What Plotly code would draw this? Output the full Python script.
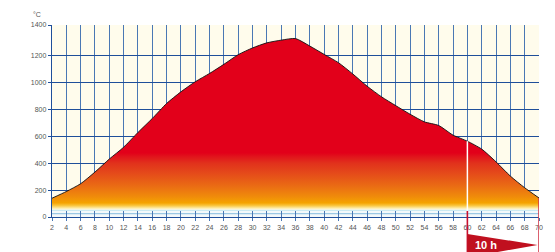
import plotly.graph_objects as go

# ---- data ----
hours = [2, 4, 6, 8, 10, 12, 14, 16, 18, 20, 22, 24, 26, 28, 30, 32, 34, 36,
         38, 40, 42, 44, 46, 48, 50, 52, 54, 56, 58, 60, 62, 64, 66, 68, 70]
temps = [140, 190, 248, 335, 432, 520, 630, 734, 846, 933, 1008, 1070, 1138,
         1210, 1260, 1298, 1318, 1330, 1274, 1212, 1150, 1066, 975, 896, 830,
         766, 709, 682, 610, 565, 506, 411, 305, 218, 142]
x_ticks = list(range(2, 71, 2))
y_tickvals = [0, 200, 400, 600, 800, 1000, 1200, 1431]
y_ticktext = ["0", "200", "400", "600", "800", "1000", "1200", "1400"]
unit_label = "°C"
hold_start, hold_end = 60, 70
hold_label = "10 h"
fill_floor = 45
y_top = 1431

DARK = "#1f4f9a"
GRID = "#4a78b4"
TXT = "#555555"

def n(v):
    return (v - fill_floor) / (500 - fill_floor)

colorscale = [
    [0.0, "#b9e1f2"],
    [n(52), "#dcf0f0"],
    [n(58), "#fff7d6"],
    [n(68), "#fde79a"],
    [n(85), "#f9c640"],
    [n(105), "#f5a300"],
    [n(150), "#f08c0a"],
    [n(230), "#ea6c14"],
    [n(320), "#e54c1a"],
    [n(400), "#e1321c"],
    [n(450), "#e1141c"],
    [n(478), "#e2001a"],
    [1.0, "#e2001a"],
]

fig = go.Figure()
fig.add_trace(go.Scatter(x=hours, y=[fill_floor] * len(hours), mode="lines",
                         line=dict(width=0), hoverinfo="skip", showlegend=False))
fig.add_trace(go.Scatter(
    x=hours, y=temps, mode="lines", fill="tonexty",
    line=dict(color="#111111", width=0.9, shape="spline", smoothing=0.6),
    fillgradient=dict(type="vertical", start=fill_floor, stop=500,
                      colorscale=colorscale),
    showlegend=False))

hold_idx = hours.index(hold_start)
end_idx = hours.index(hold_end)
shapes = [
    # bottom strip
    dict(type="rect", xref="x", yref="y", x0=2, x1=70, y0=0, y1=fill_floor,
         fillcolor="#f3f9fb", line=dict(width=0), layer="below"),
    dict(type="line", xref="x", yref="y", x0=2, x1=70, y0=25, y1=25,
         line=dict(color="#9cc8e4", width=1.2), layer="below"),
    # white marker inside the fill
    dict(type="line", xref="x", yref="y", x0=hold_start, x1=hold_start,
         y0=fill_floor, y1=temps[hold_idx], line=dict(color="white", width=1.5)),
    # red lines below the axis
    dict(type="line", xref="x", yref="paper", x0=hold_start, x1=hold_start,
         y0=-0.25, y1=fill_floor / y_top, line=dict(color="#c8102e", width=1.6)),
    dict(type="line", xref="x", yref="paper", x0=hold_end, x1=hold_end,
         y0=-0.25, y1=temps[end_idx] / y_top, line=dict(color="#d23a4c", width=1.6)),
    # arrow flag
    dict(type="path", xref="x", yref="paper",
         path=f"M {hold_start},-0.088 L {hold_end - 0.2},-0.146 L {hold_start},-0.21 Z",
         fillcolor="#c0101f", line=dict(width=0)),
]

# page has an 8px body margin -> figure is 547x244 placed at (8, 8)
fig.update_layout(
    width=547, height=244,
    margin=dict(l=44, r=16, t=17, b=35),
    paper_bgcolor="white", plot_bgcolor="#fffcec",
    shapes=shapes,
    font=dict(family="Liberation Sans, Arial", size=7, color=TXT),
    annotations=[
        dict(text=unit_label, xref="paper", yref="paper", x=-0.03, y=1.055,
             showarrow=False, xanchor="center", yanchor="middle",
             font=dict(size=7, color=TXT)),
        dict(text=f"<b>{hold_label}</b>", xref="x", yref="paper", x=62.6, y=-0.146,
             showarrow=False, xanchor="center", yanchor="middle",
             font=dict(size=11, color="white", family="Liberation Sans, Arial")),
    ],
)
fig.update_xaxes(range=[2, 70], tickvals=x_ticks, ticks="outside", ticklen=3,
                 tickcolor=GRID, tickwidth=1.2, showgrid=True, gridcolor=GRID,
                 gridwidth=1.2, showline=True, linecolor=DARK, linewidth=1.4,
                 zeroline=False, tickfont=dict(size=7, color=TXT))
fig.update_yaxes(range=[0, y_top], tickvals=y_tickvals, ticktext=y_ticktext,
                 ticks="outside", ticklen=3, tickcolor=DARK, showgrid=True,
                 gridcolor=DARK, gridwidth=1.4, showline=True, linecolor=DARK,
                 linewidth=1.4, zeroline=False, tickfont=dict(size=7, color=TXT))

fig.write_html("out.html")
